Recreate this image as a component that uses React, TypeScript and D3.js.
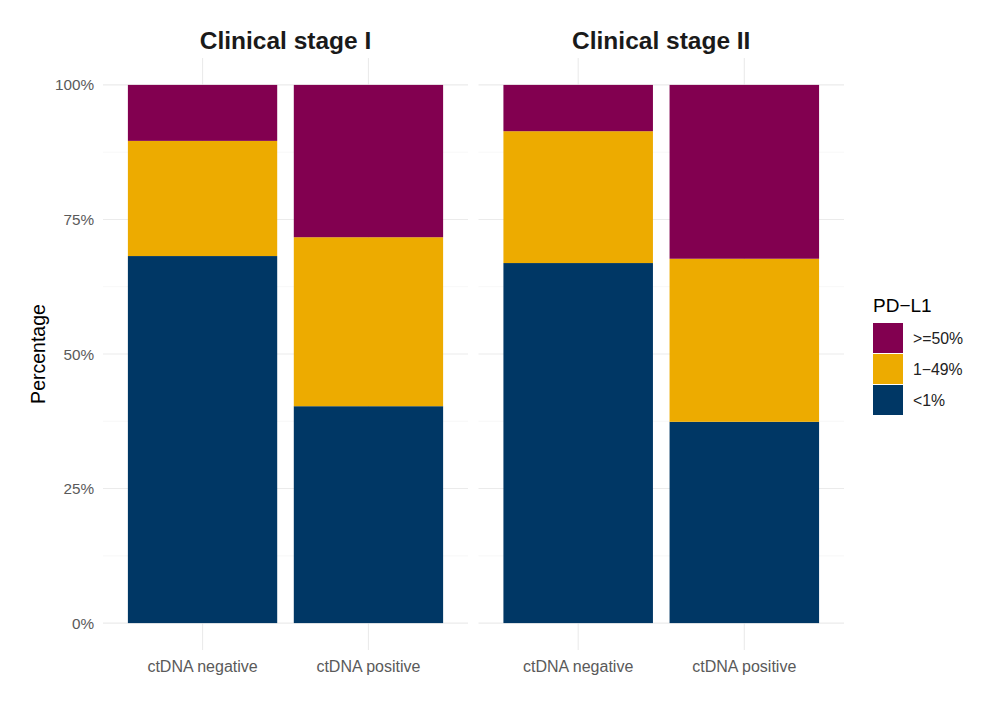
import React from "react";
import * as d3 from "d3";

const panels = ["Clinical stage I", "Clinical stage II"];
const categories = ["ctDNA negative", "ctDNA positive"];
const levels = [">=50%", "1\u221249%", "<1%"];
const colors = ["#820050", "#EDAB00", "#003765"];
// share per category (stage I neg, stage I pos) then stage II
const lowShare = [[68.2, 40.3], [66.9, 37.4]];
const midShare = [[21.4, 31.4], [24.5, 30.3]];
const highShare = [[10.4, 28.3], [8.6, 32.3]];
const yTicks = [0, 25, 50, 75, 100];
const yMinor = [12.5, 37.5, 62.5, 87.5];

const W = 996, H = 712;
const panelX = [[103, 468], [478.5, 844]];
const y = d3.scaleLinear().domain([-5, 105]).range([650, 58]);
const font = "'Liberation Sans', Arial, Helvetica, sans-serif";

export default function App() {
  return (
    <svg width={W} height={H} style={{ position: "absolute", left: 0, top: 0, background: "#fff" }} fontFamily={font}>
      {panels.map((p, pi) => {
        const x = d3.scaleLinear().domain([0.4, 2.6]).range(panelX[pi]);
        const bw = (x(1.45) - x(0.55));
        const stacks = categories.map((c, ci) => {
          const vals = [lowShare[pi][ci], midShare[pi][ci], highShare[pi][ci]];
          const segs: { y0: number; y1: number; color: string }[] = [];
          let acc = 0;
          const cols = [colors[2], colors[1], colors[0]];
          vals.forEach((v, k) => {
            segs.push({ y0: acc, y1: acc + v, color: cols[k] });
            acc += v;
          });
          return segs;
        });
        return (
          <g key={p}>
            {yMinor.map((t) => (
              <line key={"m" + t} x1={panelX[pi][0]} x2={panelX[pi][1]} y1={y(t)} y2={y(t)} stroke="#f2f2f2" strokeWidth={0.6} />
            ))}
            {yTicks.map((t) => (
              <line key={"t" + t} x1={panelX[pi][0]} x2={panelX[pi][1]} y1={y(t)} y2={y(t)} stroke="#ebebeb" strokeWidth={1.1} />
            ))}
            {categories.map((c, ci) => (
              <line key={"v" + c} x1={x(ci + 1)} x2={x(ci + 1)} y1={y(-5)} y2={y(105)} stroke="#ebebeb" strokeWidth={1.1} />
            ))}
            {stacks.map((segs, ci) =>
              segs.map((s, k) => (
                <rect key={ci + "-" + k} x={x(ci + 1) - bw / 2} width={bw} y={y(s.y1)} height={y(s.y0) - y(s.y1)} fill={s.color} />
              ))
            )}
            <text x={(panelX[pi][0] + panelX[pi][1]) / 2} y={49} textAnchor="middle" fontSize={24.5} fontWeight="bold" fill="#1a1a1a">{p}</text>
            {categories.map((c, ci) => (
              <text key={"xl" + c} x={x(ci + 1)} y={672} textAnchor="middle" fontSize={16} fill="#5a5a5a">{c}</text>
            ))}
          </g>
        );
      })}
      {yTicks.map((t) => (
        <text key={"yl" + t} x={94} y={y(t) + 5.5} textAnchor="end" fontSize={15.3} fill="#5a5a5a">{t + "%"}</text>
      ))}
      <text transform={`translate(45,${y(50)}) rotate(-90)`} textAnchor="middle" fontSize={19.5} fill="#000">Percentage</text>
      <text x={873} y={312} fontSize={19} fill="#000">PD{"\u2212"}L1</text>
      {levels.map((l, i) => (
        <g key={l}>
          <rect x={873} y={323 + i * 31} width={30} height={30} fill={colors[i]} />
          <text x={913} y={344 + i * 31} fontSize={15.8} fill="#222">{l}</text>
        </g>
      ))}
    </svg>
  );
}
